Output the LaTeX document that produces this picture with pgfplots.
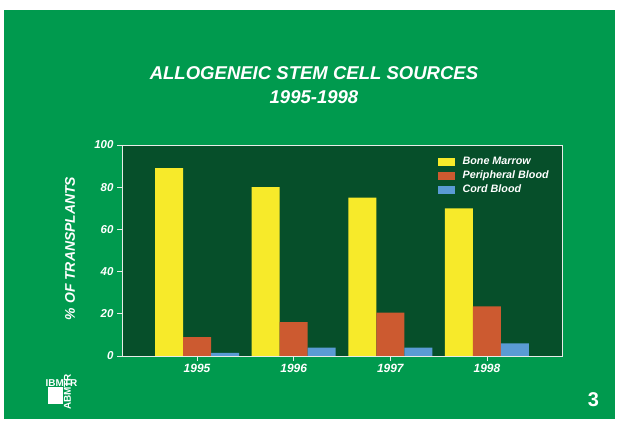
\documentclass[border=0pt]{standalone}
\usepackage{pgfplots}
\pgfplotsset{compat=1.18}
\usepackage{fontspec}
\setmainfont{Liberation Sans}
\definecolor{bg}{HTML}{009A4E}
\definecolor{plotbg}{HTML}{064F2A}
\definecolor{bm}{HTML}{F7EA2A}
\definecolor{pb}{HTML}{CC5A30}
\definecolor{cb}{HTML}{5A9BD4}
\definecolor{axl}{HTML}{E8ECE8}
\begin{document}
\begin{tikzpicture}
\useasboundingbox (0bp,0bp) rectangle (619bp,421bp);
\fill[white] (0bp,0bp) rectangle (619bp,421bp);
\fill[bg] (4bp,2bp) rectangle (615bp,411bp);
\node[white,font=\bfseries\itshape\fontsize{18.6}{24}\selectfont,align=center] at (314bp,336bp) {ALLOGENEIC STEM CELL SOURCES\\1995-1998};
\begin{axis}[
  at={(122bp,65bp)}, anchor=south west,
  scale only axis, width=440bp, height=211bp,
  xmin=-0.776, xmax=3.776, ymin=0, ymax=100,
  axis background/.style={fill=plotbg},
  axis line style={draw=axl, line width=0.8bp},
  tick style={draw=axl, line width=0.8bp},
  major tick length=5bp, tick align=outside, tick pos=left,
  xtick={0,1,2,3}, xticklabels={1995,1996,1997,1998},
  ytick={0,20,40,60,80,100},
  /pgf/number format/assume math mode=true,
  ticklabel style={text=white, font=\bfseries\itshape\fontsize{11.5}{13}\selectfont},
  xticklabel style={font=\bfseries\itshape\fontsize{12}{13}\selectfont},
  ylabel={\% OF TRANSPLANTS},
  ylabel style={text=white, font=\bfseries\itshape\fontsize{14}{16}\selectfont, at={(axis description cs:-0.118,0.51)}, anchor=center, rotate=0},
  ybar=0pt, bar width=28bp,
  legend style={draw=none, fill=none, text=white, font=\bfseries\itshape\fontsize{10.8}{12}\selectfont, at={(0.71,0.965)}, anchor=north west, row sep=0bp,
    nodes={inner sep=2bp, text height=8bp, text depth=2bp}},
  legend cell align=left,
  legend image code/.code={\fill[#1] (0bp,-4bp) rectangle (17bp,4bp); \path (23bp,0bp);},
]
\addplot[fill=bm, draw=none] coordinates {(0,89) (1,80) (2,75) (3,70)};
\addplot[fill=pb, draw=none] coordinates {(0,9) (1,16) (2,20.5) (3,23.5)};
\addplot[fill=cb, draw=none] coordinates {(0,1.5) (1,4) (2,4) (3,6)};
\legend{Bone Marrow, Peripheral Blood, Cord Blood}
\end{axis}
% logo
\fill[white] (48bp,17bp) rectangle (63bp,34bp);
\node[white, font=\bfseries\fontsize{10}{10}\selectfont, inner sep=0pt, anchor=west] at (45.5bp,37.5bp) {IBMTR};
\node[white, font=\bfseries\fontsize{10}{10}\selectfont, inner sep=0pt, rotate=90, anchor=center] at (67.5bp,29bp) {ABMTR};
\node[white, font=\bfseries\fontsize{20}{20}\selectfont, inner sep=0pt] at (593.5bp,21.5bp) {3};
\end{tikzpicture}
\end{document}
